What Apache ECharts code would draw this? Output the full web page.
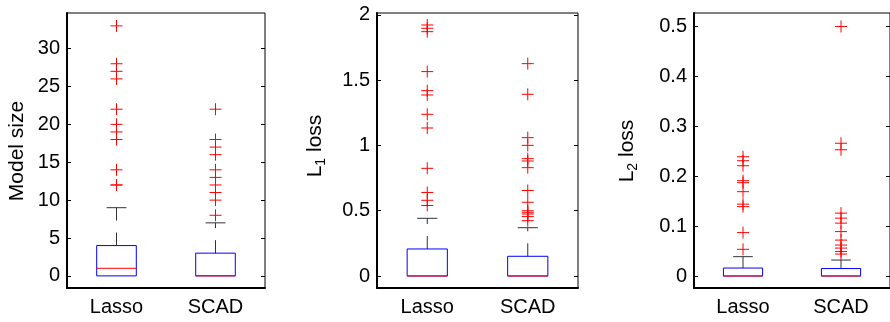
<!DOCTYPE html>
<html>
<head>
<meta charset="utf-8">
<script src="https://cdn.jsdelivr.net/npm/echarts@6/dist/echarts.min.js"></script>
<style>
  html, body { margin: 0; padding: 0; background: #fff; }
  #main { width: 890px; height: 322px; }
</style>
</head>
<body>
<div id="main"></div>
<script>
const categories = ['Lasso', 'SCAD'];

// box stats per method: [lower whisker, q1, median, q3, upper whisker]
const sizeBoxes = [[0, 0, 1, 4, 9], [0, 0, 0, 3, 7]];
const sizeOutLasso = [12, 12, 14, 18, 19, 20, 22, 26, 27, 28, 33];
const sizeOutScad = [8, 10, 11, 12, 13, 14, 16, 17, 18, 22];
const sizeTicks = [0, 5, 10, 15, 20, 25, 30];

const l1Boxes = [[0, 0, 0, 0.207, 0.442], [0, 0, 0, 0.151, 0.37]];
const l1OutLasso = [0.54, 0.58, 0.64, 0.825, 1.134, 1.239, 1.387, 1.42, 1.566, 1.872, 1.898, 1.923];
const l1OutScad = [0.424, 0.455, 0.475, 0.488, 0.5, 0.565, 0.655, 0.83, 0.881, 0.899, 1.001, 1.06, 1.392, 1.627];
const l1Ticks = [0, 0.5, 1, 1.5, 2];

const l2Boxes = [[0, 0, 0, 0.016, 0.0388], [0, 0, 0, 0.015, 0.032]];
const l2OutLasso = [0.0535, 0.087, 0.139, 0.144, 0.169, 0.187, 0.191, 0.221, 0.231, 0.239];
const l2OutScad = [0.044, 0.049, 0.056, 0.062, 0.072, 0.089, 0.106, 0.116, 0.126, 0.253, 0.266, 0.5];
const l2Ticks = [0, 0.1, 0.2, 0.3, 0.4, 0.5];

const panels = [
  { left: 67, width: 198, min: -1.6, max: 34.7, ticks: sizeTicks, boxes: sizeBoxes, out: [sizeOutLasso, sizeOutScad] },
  { left: 377, width: 201, min: -0.092, max: 2.015, ticks: l1Ticks, boxes: l1Boxes, out: [l1OutLasso, l1OutScad] },
  { left: 694, width: 200, min: -0.024, max: 0.527, ticks: l2Ticks, boxes: l2Boxes, out: [l2OutLasso, l2OutScad] }
];

const font = "'Liberation Sans', Arial, Helvetica, sans-serif";

function renderBox(params, api) {
  const x = api.value(0);
  const lo = api.coord([x, api.value(1)]);
  const q1 = api.coord([x, api.value(2)]);
  const med = api.coord([x, api.value(3)]);
  const q3 = api.coord([x, api.value(4)]);
  const hi = api.coord([x, api.value(5)]);
  const w = api.size([1, 0])[0] * 0.4;
  const cx = q1[0];
  const whisk = { stroke: '#333', lineWidth: 1, lineDash: [13, 12] };
  const cap = { stroke: '#333', lineWidth: 1 };
  const kids = [];
  if (hi[1] < q3[1]) {
    kids.push({ type: 'line', shape: { x1: cx, y1: q3[1], x2: cx, y2: hi[1] }, style: whisk });
    kids.push({ type: 'line', shape: { x1: cx - w / 4, y1: hi[1], x2: cx + w / 4, y2: hi[1] }, style: cap });
  }
  if (lo[1] > q1[1]) {
    kids.push({ type: 'line', shape: { x1: cx, y1: q1[1], x2: cx, y2: lo[1] }, style: whisk });
    kids.push({ type: 'line', shape: { x1: cx - w / 4, y1: lo[1], x2: cx + w / 4, y2: lo[1] }, style: cap });
  }
  kids.push({ type: 'rect', shape: { x: cx - w / 2, y: q3[1], width: w, height: q1[1] - q3[1] },
    style: { fill: 'none', stroke: '#0000ff', lineWidth: 1 } });
  kids.push({ type: 'line', shape: { x1: cx - w / 2, y1: med[1], x2: cx + w / 2, y2: med[1] },
    style: { stroke: '#ff0000', lineWidth: 1 } });
  return { type: 'group', children: kids };
}

const grid = [], xAxis = [], yAxis = [], series = [];
panels.forEach((p, i) => {
  grid.push({ left: p.left, top: 13, width: p.width, height: 275, show: true,
    borderColor: '#000', borderWidth: 1, backgroundColor: 'transparent' });
  xAxis.push({
    type: 'category', gridIndex: i, data: categories, position: 'bottom',
    axisLine: { onZero: false, lineStyle: { color: '#000', width: 2 } },
    axisTick: { inside: true, alignWithLabel: true, length: 4, lineStyle: { color: '#000' } },
    axisLabel: { color: '#000', fontSize: 20, fontFamily: font, margin: 9 },
    splitLine: { show: false }
  });
  xAxis.push({
    type: 'category', gridIndex: i, data: categories, position: 'top',
    axisLine: { show: false, onZero: false },
    axisTick: { inside: true, alignWithLabel: true, length: 4, lineStyle: { color: '#000' } },
    axisLabel: { show: false }, splitLine: { show: false }
  });
  yAxis.push({
    type: 'value', gridIndex: i, min: p.min, max: p.max, position: 'left',
    axisLine: { show: true, onZero: false, lineStyle: { color: '#000', width: 2 } },
    axisTick: { show: true, inside: true, length: 4, customValues: p.ticks, lineStyle: { color: '#000' } },
    axisLabel: { color: '#000', fontSize: 20, fontFamily: font, margin: 7, customValues: p.ticks },
    splitLine: { show: false }
  });
  yAxis.push({
    type: 'value', gridIndex: i, min: p.min, max: p.max, position: 'right',
    axisLine: { show: false, onZero: false },
    axisTick: { show: true, inside: true, length: 4, customValues: p.ticks, lineStyle: { color: '#000' } },
    axisLabel: { show: false }, splitLine: { show: false }
  });
  series.push({
    type: 'custom', xAxisIndex: 2 * i, yAxisIndex: 2 * i,
    data: p.boxes.map((b, k) => [k].concat(b)),
    renderItem: renderBox, silent: true, z: 2
  });
  series.push({
    type: 'scatter', xAxisIndex: 2 * i, yAxisIndex: 2 * i,
    symbol: 'path://M0,5L10,5M5,0L5,10', symbolSize: 12,
    itemStyle: { color: 'transparent', borderColor: '#ff0000', borderWidth: 1, opacity: 1 },
    data: p.out[0].map(v => [0, v]).concat(p.out[1].map(v => [1, v])),
    silent: true, z: 3
  });
});

const titleStyle = { fill: '#000', fontSize: 21, fontFamily: font, align: 'center', verticalAlign: 'middle' };
const subRich = {
  m: { fontSize: 21, fontFamily: font, color: '#000' },
  s: { fontSize: 14, fontFamily: font, color: '#000', padding: [12, 0, 0, 0] }
};

const option = {
  animation: false,
  backgroundColor: '#fff',
  grid: grid,
  xAxis: xAxis,
  yAxis: yAxis,
  series: series,
  graphic: [
    { type: 'text', x: 17, y: 151, rotation: Math.PI / 2,
      style: Object.assign({ text: 'Model size' }, titleStyle) },
    { type: 'text', x: 315, y: 146, rotation: Math.PI / 2,
      style: Object.assign({ text: '{m|L}{s|1}{m| loss}', rich: subRich }, titleStyle) },
    { type: 'text', x: 627, y: 151, rotation: Math.PI / 2,
      style: Object.assign({ text: '{m|L}{s|2}{m| loss}', rich: subRich }, titleStyle) }
  ]
};

const chart = echarts.init(document.getElementById('main'), null, { renderer: 'canvas' });
chart.setOption(option);
</script>
</body>
</html>
